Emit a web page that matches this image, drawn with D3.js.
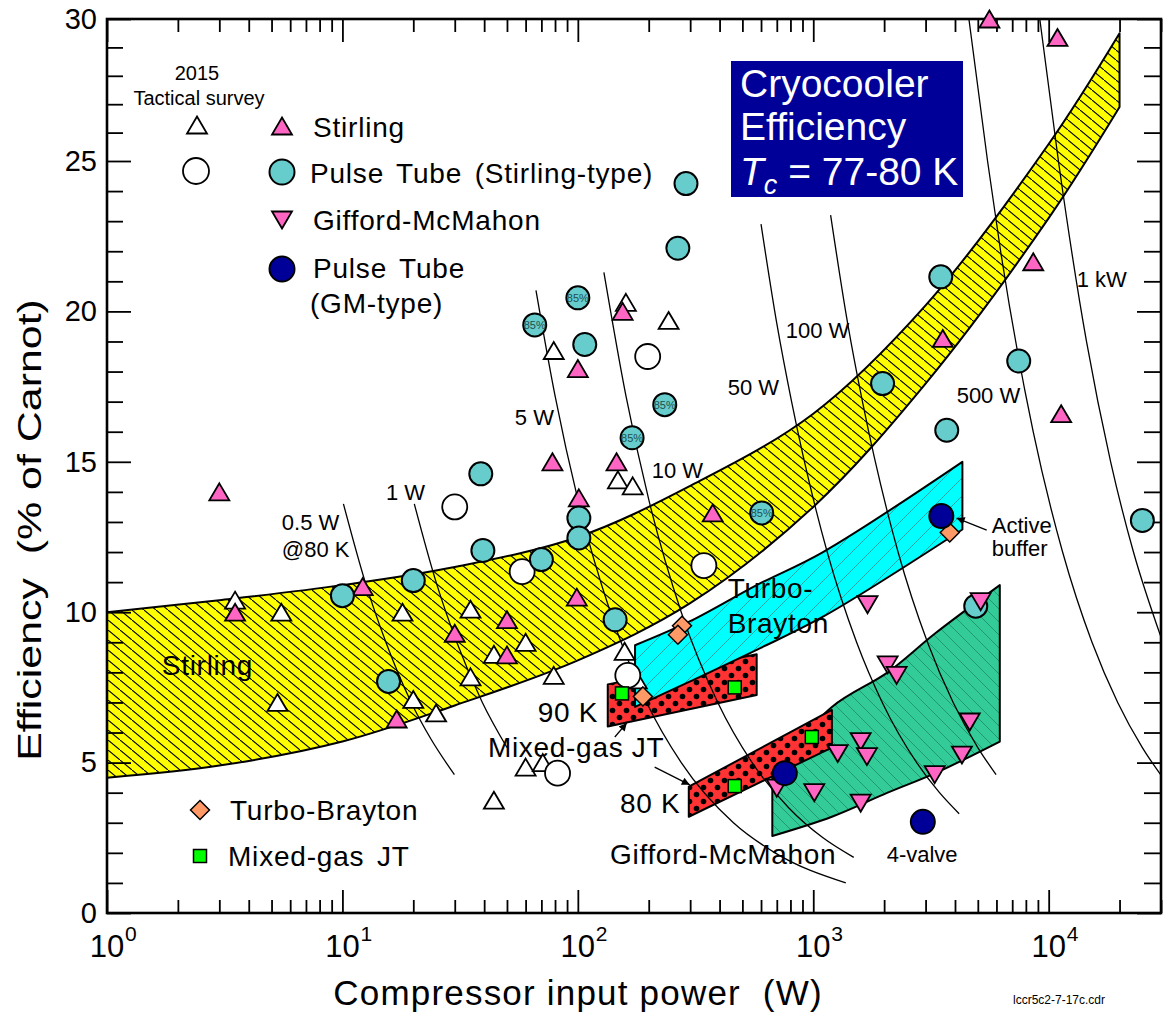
<!DOCTYPE html>
<html>
<head>
<meta charset="utf-8">
<script src="https://cdn.jsdelivr.net/npm/d3@7"></script>
<style>
  body { margin: 0; background: #fff; }
  svg text { font-family: "Liberation Sans", Arial, Helvetica, sans-serif; fill: #000; }
</style>
</head>
<body>
<div id="chart"></div>
<script>
// ---- data (compressor input power in W, efficiency in % of Carnot) ----
const surveyStirling = [[3.5,10.4],[5.5,10.0],[5.3,7.0],[18,10.0],[20,7.1],[25,6.65],[35,10.1],[35,7.85],
  [44,8.6],[60,9.0],[79,7.9],[79,18.7],[160,20.3],[243,19.7],[148,14.4],[171,14.2],[158,8.7],[178,7.75],
  [44,3.75],[60,4.85],[71,5.0]];
const surveyPulseTube = [[30,13.5],[58,11.35],[198,18.5],[343,11.55],[163,7.9],[82,4.65]];
const stirling = [[3.0,14.0],[3.5,10.0],[12.2,10.85],[17,6.45],[30,9.3],[50,9.75],[50,8.58],[78,15.0],
  [100,18.1],[99,10.5],[101,13.8],[146,15.0],[155,20.0],[374,13.3],[3550,19.1],[5600,30.0],[10900,29.35],
  [8600,21.65],[11300,16.6]];
// third field marks the points drawn with an "85%" tag
const pulseTubeStirling = [[10,10.55],[15.7,7.7],[20,11.05],[38.7,14.6],[39.5,12.05],[65.6,19.55,"85%"],
  [100,20.45,"85%"],[107,18.9],[101,13.13],[101,12.47],[70,11.75],[144,9.75],[170,15.8,"85%"],
  [234,16.9,"85%"],[288,24.25],[266,22.1],[604,13.3,"85%"],[1970,17.6],[3480,21.15],[3690,16.05],
  [7460,18.35],[25000,13.05],[4900,10.2]];
const giffordMcMahon = [[1700,10.25],[5140,10.35],[2070,8.25],[2260,7.9],[4620,6.35],[4280,5.25],[3280,4.6],
  [1590,5.7],[1270,5.3],[1690,5.2],[1590,3.65],[1010,4.0],[700,4.15]];
const turboBrayton = [[277,9.55],[266,9.25],[189,7.2],[3800,12.65]];
const mixedGasJT = [[154,7.3],[464,7.5],[464,4.22],[986,5.85]];
const pulseTubeGM = [[3500,13.2],[757,4.65],[2920,3.03]];

// shaded technology bands: x positions with lower / upper efficiency
const stirlingBandX = [1, 3, 10, 30, 100, 300, 1000, 3000, 10000, 20000];
const stirlingBandLow = [4.5, 4.9, 5.7, 6.9, 8.4, 10.3, 13.5, 17.6, 23.1, 26.9];
const stirlingBandHigh = [10.0, 10.4, 10.9, 11.5, 12.5, 14.2, 16.6, 20.2, 25.6, 29.5];
const braytonBandX = [175, 300, 575, 1100, 4300];
const braytonBandLow = [6.85, 7.7, 8.75, 9.85, 12.75];
const braytonBandHigh = [8.9, 9.7, 10.9, 12.0, 15.0];
const jt90X = [134, 575], jt90Low = [6.2, 7.25], jt90High = [7.6, 8.6];
const jt80X = [296, 1200], jt80Low = [3.2, 5.5], jt80High = [4.2, 6.75];
const gmBandX = [670, 1200, 2070, 3300, 6200];
const gmBandLow = [2.56, 3.2, 4.0, 4.65, 5.7];
const gmBandHigh = [4.7, 6.85, 8.0, 9.3, 10.9];

// constant cooling-power curves
const isoNames = ["0.5 W", "1 W", "5 W", "10 W", "50 W", "100 W", "500 W", "1 kW"];
const isoCurves = [
  [[10.1,13.6],[12.5,11],[15.3,9],[19.6,7],[23.7,5.8],[29.9,4.6]],
  [[20.2,13.6],[25,11],[30.6,9],[39.3,7],[50,5.5]],
  [[66.4,20.7],[80,17.2],[100,13.75],[137.5,10],[196,7],[275,5],[458,3],[688,2],[1375,1.0]],
  [[129,21.3],[160,17.2],[200,13.75],[275,10],[393,7],[550,5],[786,3.5],[1100,2.5],[1486,1.85]],
  [[600,22.9],[700,19.6],[809,17],[1146,12],[1528,9],[1964,7],[2750,5],[3438,4],[4167,3.3]],
  [[1185,23.2],[1400,19.6],[1618,17],[2292,12],[3056,9],[3929,7],[5000,5.5],[5978,4.6]],
  [[4583,30],[5500,25],[6250,22],[8594,16],[11458,12],[15278,9],[19643,7],[25000,5.5],[30000,4.58]],
  [[9167,30],[11000,25],[14474,19],[18333,15],[22917,12],[30000,9.17]]
];
const isoLabelAt = [[5.53,12.73],[15.3,13.73],[54,16.22],[206,14.46],[433,17.22],[764,19.12],[4065,16.95],[13150,20.81]];

const regionLabels = ["Stirling", "Turbo-", "Brayton", "90 K", "Mixed-gas JT", "80 K", "Gifford-McMahon"];
const regionLabelAt = [[1.71,7.91],[433,10.47],[433,9.31],[67.6,6.35],[41.5,5.19],[151,3.32],[137,1.63]];
const noteLabels = ["@80 K", "4-valve", "Active", "buffer"];
const noteLabelAt = [[5.53,11.84],[2051,1.70],[5730,12.63],[5730,11.87]];
const arrows = [[[5454,12.73],[4065,13.13]], [[143.6,5.85],[161.5,6.32]], [[212,4.85],[299,4.26]]];

const xMajorTicks = [1, 10, 100, 1000, 10000];
const yMajorTicks = [0, 5, 10, 15, 20, 25, 30];

// ---- drawing ----
const W = 1163, H = 1018;
const svg = d3.select("#chart").append("svg").attr("width", W).attr("height", H);

const x = d3.scaleLog().domain([1, 30000]).range([107, 1161]);
const y = d3.scaleLinear().domain([0, 25, 30]).range([913, 161, 19]);

const defs = svg.append("defs");
defs.append("clipPath").attr("id", "plot").append("rect")
  .attr("x", x(1)).attr("y", y(30)).attr("width", x(30000) - x(1)).attr("height", y(0) - y(30));

function hatch(id, bg, line, w, h, dir, sw) {
  const p = defs.append("pattern").attr("id", id).attr("patternUnits", "userSpaceOnUse")
    .attr("width", w).attr("height", h);
  p.append("rect").attr("width", w).attr("height", h).attr("fill", bg);
  const d = dir === "\\" ? `M-1,${-h / w}L${w + 1},${h + h / w}` : `M-1,${h + h / w}L${w + 1},${-h / w}`;
  p.append("path").attr("d", d).attr("stroke", line).attr("stroke-width", sw);
}
hatch("hYellow", "#ffff00", "#000", 12, 10, "\\", 1.1);
hatch("hCyan", "#00ffff", "#2a9a9a", 18, 18, "/", 0.9);
hatch("hGreen", "#33cc99", "#1e8a66", 13, 13, "\\", 0.8);
const dots = defs.append("pattern").attr("id", "dots").attr("patternUnits", "userSpaceOnUse")
  .attr("width", 14).attr("height", 14);
dots.append("rect").attr("width", 14).attr("height", 14).attr("fill", "#ff3333");
dots.selectAll("circle").data([[3.5, 3.5], [10.5, 10.5]]).join("circle")
  .attr("cx", d => d[0]).attr("cy", d => d[1]).attr("r", 2.8).attr("fill", "#000");
defs.append("marker").attr("id", "arrow").attr("viewBox", "0 0 10 10").attr("refX", 10).attr("refY", 5)
  .attr("markerWidth", 10).attr("markerHeight", 8).attr("markerUnits", "userSpaceOnUse").attr("orient", "auto")
  .append("path").attr("d", "M0,0L10,5L0,10z").attr("fill", "#000");

const zip = (xs, lo, hi) => xs.map((v, i) => [v, lo[i], hi[i]]);
const smoothArea = d3.area().x(d => x(d[0])).y0(d => y(d[1])).y1(d => y(d[2])).curve(d3.curveCatmullRom);
const flatArea = d3.area().x(d => x(d[0])).y0(d => y(d[1])).y1(d => y(d[2]));

const regions = svg.append("g").attr("stroke", "#000").attr("stroke-width", 2).attr("stroke-linejoin", "round");
regions.append("path").attr("d", smoothArea(zip(stirlingBandX, stirlingBandLow, stirlingBandHigh))).attr("fill", "url(#hYellow)");
regions.append("path").attr("d", flatArea(zip(jt90X, jt90Low, jt90High))).attr("fill", "url(#dots)");
regions.append("path").attr("d", smoothArea(zip(braytonBandX, braytonBandLow, braytonBandHigh))).attr("fill", "url(#hCyan)");
regions.append("path").attr("d", smoothArea(zip(gmBandX, gmBandLow, gmBandHigh))).attr("fill", "url(#hGreen)");
regions.append("path").attr("d", flatArea(zip(jt80X, jt80Low, jt80High))).attr("fill", "url(#dots)");

const isoLine = d3.line().x(d => x(d[0])).y(d => y(d[1])).curve(d3.curveMonotoneX);
svg.append("g").attr("clip-path", "url(#plot)")
  .selectAll("path").data(isoCurves).join("path")
  .attr("d", isoLine).attr("fill", "none").attr("stroke", "#000").attr("stroke-width", 1.3);

// axes
const minorX = [];
xMajorTicks.forEach(d => d3.range(2, 10).forEach(k => { if (d * k <= 30000) minorX.push(d * k); }));
const minorY = d3.range(0, 31).filter(v => v % 5 !== 0);
const clean = g => { g.select(".domain").remove(); g.selectAll(".tick line").attr("stroke-width", 1.8); };

svg.append("g").attr("transform", `translate(0,${y(0)})`)
  .call(d3.axisBottom(x).tickValues(minorX).tickSize(-13).tickFormat("")).call(clean);
svg.append("g").attr("transform", `translate(0,${y(0)})`)
  .call(d3.axisBottom(x).tickValues(xMajorTicks).tickSize(-23).tickFormat("")).call(clean);
svg.append("g").attr("transform", `translate(0,${y(30)})`)
  .call(d3.axisTop(x).tickValues(minorX).tickSize(-13).tickFormat("")).call(clean);
svg.append("g").attr("transform", `translate(0,${y(30)})`)
  .call(d3.axisTop(x).tickValues(xMajorTicks).tickSize(-23).tickFormat("")).call(clean);
svg.append("g").attr("transform", `translate(${x(1)},0)`)
  .call(d3.axisLeft(y).tickValues(minorY).tickSize(-16).tickFormat("")).call(clean);
svg.append("g").attr("transform", `translate(${x(1)},0)`)
  .call(d3.axisLeft(y).tickValues(yMajorTicks).tickSize(-24).tickPadding(10)).call(clean)
  .call(g => g.selectAll("text").attr("font-size", 29).attr("font-family", null).attr("fill", "#000"));
svg.append("g").attr("transform", `translate(${x(30000)},0)`)
  .call(d3.axisRight(y).tickValues(minorY).tickSize(-17).tickFormat("")).call(clean);
svg.append("g").attr("transform", `translate(${x(30000)},0)`)
  .call(d3.axisRight(y).tickValues(yMajorTicks).tickSize(-24).tickFormat("")).call(clean);

svg.append("rect").attr("x", x(1)).attr("y", y(30)).attr("width", x(30000) - x(1)).attr("height", y(0) - y(30))
  .attr("fill", "none").attr("stroke", "#000").attr("stroke-width", 2.6);

const xl = svg.append("g").selectAll("g").data(xMajorTicks).join("g")
  .attr("transform", d => `translate(${x(d)},957)`);
xl.append("text").attr("text-anchor", "middle").attr("font-size", 31).text("10");
xl.append("text").attr("x", 18).attr("y", -16).attr("font-size", 21).text(d => Math.round(Math.log10(d)));

svg.append("text").attr("x", 578).attr("y", 1005).attr("text-anchor", "middle").attr("font-size", 35)
  .style("letter-spacing", "1.2px").style("white-space", "pre").text("Compressor input power  (W)");
svg.append("text").attr("transform", "translate(41,530) rotate(-90) scale(1.3,1)").attr("text-anchor", "middle")
  .attr("font-size", 33).style("white-space", "pre").text("Efficiency  (% of Carnot)");
svg.append("text").attr("x", 1013).attr("y", 1004).attr("font-size", 12).text("lccr5c2-7-17c.cdr");

// iso-power labels and annotations
const ann = svg.append("g");
ann.selectAll(".iso").data(isoNames).join("text").attr("class", "iso")
  .attr("x", (d, i) => x(isoLabelAt[i][0])).attr("y", (d, i) => y(isoLabelAt[i][1]))
  .attr("font-size", 22).text(d => d);
ann.selectAll(".note").data(noteLabels).join("text").attr("class", "note")
  .attr("x", (d, i) => x(noteLabelAt[i][0])).attr("y", (d, i) => y(noteLabelAt[i][1]))
  .attr("font-size", 22).text(d => d);
ann.selectAll(".arr").data(arrows).join("line").attr("class", "arr")
  .attr("x1", d => x(d[0][0])).attr("y1", d => y(d[0][1])).attr("x2", d => x(d[1][0])).attr("y2", d => y(d[1][1]))
  .attr("stroke", "#000").attr("stroke-width", 1.3).attr("marker-end", "url(#arrow)");

// markers
const up = (cx, cy) => `M${cx},${cy - 8.5}l10,17h-20z`;
const down = (cx, cy) => `M${cx},${cy + 8.5}l10,-17h-20z`;
const diamond = (cx, cy) => `M${cx},${cy - 9.5}l9.5,9.5l-9.5,9.5l-9.5,-9.5z`;
const mk = svg.append("g").attr("stroke", "#000");

mk.selectAll(".st").data(surveyStirling).join("path").attr("class", "st")
  .attr("d", d => up(x(d[0]), y(d[1]))).attr("fill", "#fff").attr("stroke-width", 1.8);
mk.selectAll(".sp").data(surveyPulseTube).join("circle").attr("class", "sp")
  .attr("cx", d => x(d[0])).attr("cy", d => y(d[1])).attr("r", 12.5).attr("fill", "#fff").attr("stroke-width", 1.8);
mk.selectAll(".sl").data(stirling).join("path").attr("class", "sl")
  .attr("d", d => up(x(d[0]), y(d[1]))).attr("fill", "#ff66c4").attr("stroke-width", 1.8);
mk.selectAll(".pt").data(pulseTubeStirling).join("circle").attr("class", "pt")
  .attr("cx", d => x(d[0])).attr("cy", d => y(d[1])).attr("r", 11.5).attr("fill", "#66cccc").attr("stroke-width", 2);
svg.append("g").selectAll("text").data(pulseTubeStirling.filter(d => d[2])).join("text")
  .attr("x", d => x(d[0])).attr("y", d => y(d[1]) + 4).attr("text-anchor", "middle")
  .attr("font-size", 11).style("fill", "#1d4f4f").text(d => d[2]);
mk.selectAll(".gm").data(giffordMcMahon).join("path").attr("class", "gm")
  .attr("d", d => down(x(d[0]), y(d[1]))).attr("fill", "#ff66c4").attr("stroke-width", 1.8);
mk.selectAll(".tb").data(turboBrayton).join("path").attr("class", "tb")
  .attr("d", d => diamond(x(d[0]), y(d[1]))).attr("fill", "#ff9966").attr("stroke-width", 1.5);
mk.selectAll(".jt").data(mixedGasJT).join("rect").attr("class", "jt")
  .attr("x", d => x(d[0]) - 6.5).attr("y", d => y(d[1]) - 6.5).attr("width", 13).attr("height", 13)
  .attr("fill", "#00ff00").attr("stroke-width", 1.5);
mk.selectAll(".pg").data(pulseTubeGM).join("circle").attr("class", "pg")
  .attr("cx", d => x(d[0])).attr("cy", d => y(d[1])).attr("r", 12).attr("fill", "#000099").attr("stroke-width", 2);

// region labels on top
ann.selectAll(".reg").data(regionLabels).join("text").attr("class", "reg")
  .attr("x", (d, i) => x(regionLabelAt[i][0])).attr("y", (d, i) => y(regionLabelAt[i][1]))
  .attr("font-size", 28).style("letter-spacing", "0.7px").text(d => d);

// legend
const lg = svg.append("g");
lg.append("text").attr("x", 197).attr("y", 80).attr("text-anchor", "middle").attr("font-size", 20).text("2015");
lg.append("text").attr("x", 199).attr("y", 105).attr("text-anchor", "middle").attr("font-size", 20).text("Tactical survey");
lg.append("path").attr("d", up(197, 125)).attr("fill", "#fff").attr("stroke", "#000").attr("stroke-width", 1.8);
lg.append("circle").attr("cx", 196).attr("cy", 171).attr("r", 13).attr("fill", "#fff").attr("stroke", "#000").attr("stroke-width", 1.8);
lg.append("path").attr("d", up(282, 126)).attr("fill", "#ff66c4").attr("stroke", "#000").attr("stroke-width", 1.8);
lg.append("circle").attr("cx", 282).attr("cy", 172).attr("r", 12.5).attr("fill", "#66cccc").attr("stroke", "#000").attr("stroke-width", 2);
lg.append("path").attr("d", down(282, 220)).attr("fill", "#ff66c4").attr("stroke", "#000").attr("stroke-width", 1.8);
lg.append("circle").attr("cx", 282).attr("cy", 269).attr("r", 12.5).attr("fill", "#000099").attr("stroke", "#000").attr("stroke-width", 2);
const lgText = [["Stirling", 313, 137], ["Pulse Tube (Stirling-type)", 310, 183], ["Gifford-McMahon", 313, 230],
  ["Pulse Tube", 313, 278], ["(GM-type)", 310, 313], ["Turbo-Brayton", 230, 820], ["Mixed-gas JT", 228, 866]];
lg.selectAll(".lt").data(lgText).join("text").attr("class", "lt")
  .attr("x", d => d[1]).attr("y", d => d[2]).attr("font-size", 28)
  .style("letter-spacing", "0.8px").style("word-spacing", "4px").text(d => d[0]);
lg.append("path").attr("d", diamond(200, 810)).attr("fill", "#ff9966").attr("stroke", "#000").attr("stroke-width", 1.5);
lg.append("rect").attr("x", 193.5).attr("y", 849.5).attr("width", 13).attr("height", 13)
  .attr("fill", "#00ff00").attr("stroke", "#000").attr("stroke-width", 1.5);

// title box
const tb = svg.append("g");
tb.append("rect").attr("x", 731).attr("y", 61).attr("width", 232).attr("height", 136).attr("fill", "#000099");
tb.append("text").attr("x", 740).attr("y", 97).attr("font-size", 39).style("fill", "#fff").text("Cryocooler");
tb.append("text").attr("x", 740).attr("y", 140).attr("font-size", 39).style("fill", "#fff").text("Efficiency");
const t3 = tb.append("text").attr("x", 740).attr("y", 185).attr("font-size", 39).style("fill", "#fff");
t3.append("tspan").attr("font-style", "italic").text("T");
t3.append("tspan").attr("font-style", "italic").attr("font-size", 27).attr("dy", 9).text("c");
t3.append("tspan").attr("dy", -9).text(" = 77-80 K");
</script>
</body>
</html>
